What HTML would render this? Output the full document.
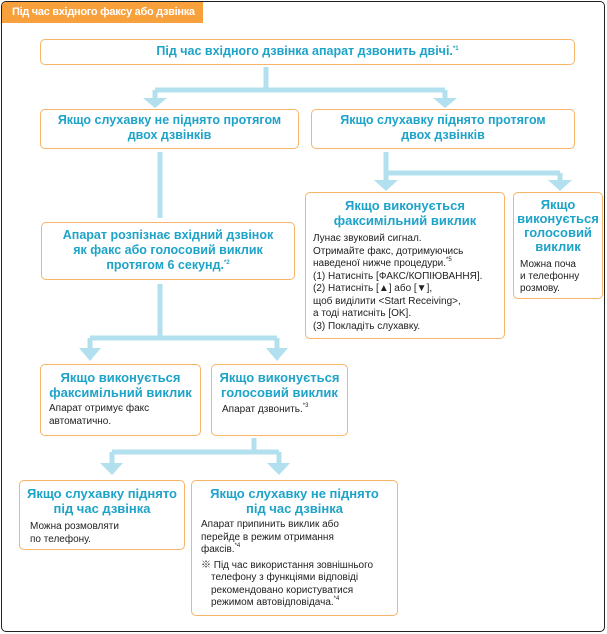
<!DOCTYPE html>
<html><head><meta charset="utf-8"><style>
body{margin:0;width:607px;height:634px;background:#fff;position:relative;overflow:hidden;font-family:"Liberation Sans","Noto Sans CJK SC",sans-serif}
.frame{position:absolute;left:1px;top:1px;width:602px;height:629px;border:1.5px solid #222;border-radius:5px}
.tab{position:absolute;left:2px;top:2px;width:201px;height:21px;background:#f7a03c;color:#fff;font-size:11px;font-weight:bold;line-height:21px;padding-left:10px;box-sizing:border-box;border-top-left-radius:4px;white-space:nowrap;letter-spacing:-0.3px}
.b{position:absolute;border:1.5px solid #f8b468;border-radius:5px;box-sizing:border-box;background:#fff}
.t{color:#1ea3c9;font-weight:bold;text-align:center;font-size:12.5px;line-height:15px}
.p{color:#222;font-size:10px;line-height:12.5px}
sup{font-size:6px;line-height:0;vertical-align:0;position:relative;top:-5px}
svg{position:absolute;left:0;top:0}
</style></head><body>
<div class="frame"></div>
<div class="tab">Під час вхідного факсу або дзвінка</div>
<svg width="607" height="634">
<g fill="none" stroke="#b3e0ee" stroke-width="5">
<path d="M266 67V90M155 90H445M155 90V100M445 90V100"/>
<path d="M160 152V218M160 284V338M90 338H277M90 338V350M277 338V350"/>
<path d="M254 438V452M112 452H279M112 452V466M279 452V466"/>
<path d="M386 152V173M386 173H560M386 173V182M560 173V182"/>
</g>
<g fill="#b3e0ee">
<path d="M143 98H167L155 108Z M433 98H457L445 108Z"/>
<path d="M79 348H101L90 361Z M266 348H288L277 361Z"/>
<path d="M100 463H123L112 475Z M267 463H290L279 475Z"/>
<path d="M374 180H398L386 191Z M548 180H572L560 191Z"/>
</g>
</svg>
<div class="b" style="left:40px;top:39px;width:535px;height:26px"><div class="t" style="line-height:23px">Під час вхідного дзвінка апарат дзвонить двічі.<sup>*1</sup></div></div>
<div class="b" style="left:40px;top:109px;width:259px;height:40px"><div class="t" style="margin-top:3px">Якщо слухавку не піднято протягом<br>двох дзвінків</div></div>
<div class="b" style="left:311px;top:109px;width:264px;height:40px"><div class="t" style="margin-top:3px">Якщо слухавку піднято протягом<br>двох дзвінків</div></div>
<div class="b" style="left:41px;top:222px;width:254px;height:58px"><div class="t" style="margin-top:5px">Апарат розпізнає вхідний дзвінок<br>як факс або голосовий виклик<br>протягом 6 секунд.<sup>*2</sup></div></div>
<div class="b" style="left:305px;top:192px;width:200px;height:147px"><div class="t" style="font-size:13px;margin-top:5px">Якщо виконується<br>факсимільний виклик</div>
<div class="p" style="margin:5px 0 0 7px">Лунає звуковий сигнал.<br>Отримайте факс, дотримуючись<br>наведеної нижче процедури.<sup>*5</sup><br>(1) Натисніть [ФАКС/КОПІЮВАННЯ].<br>(2) Натисніть [▲] або [▼],<br>щоб виділити &lt;Start Receiving&gt;,<br>а тоді натисніть [OK].<br>(3) Покладіть слухавку.</div></div>
<div class="b" style="left:513px;top:192px;width:90px;height:107px"><div class="t" style="font-size:13px;line-height:14px;margin-top:5px">Якщо<br>виконується<br>голосовий<br>виклик</div>
<div class="p" style="margin:5px 0 0 6px;line-height:12px">Можна поча<br>и телефонну<br>розмову.</div></div>
<div class="b" style="left:40px;top:364px;width:161px;height:72px"><div class="t" style="font-size:13px;margin-top:5px">Якщо виконується<br>факсимільний виклик</div>
<div class="p" style="margin:3px 0 0 8px">Апарат отримує факс<br>автоматично.</div></div>
<div class="b" style="left:211px;top:364px;width:137px;height:72px"><div class="t" style="font-size:13px;margin-top:5px">Якщо виконується<br>голосовий виклик</div>
<div class="p" style="margin:4px 0 0 10px">Апарат дзвонить.<sup>*3</sup></div></div>
<div class="b" style="left:19px;top:480px;width:166px;height:70px"><div class="t" style="font-size:13px;margin-top:5px">Якщо слухавку піднято<br>під час дзвінка</div>
<div class="p" style="margin:5px 0 0 10px">Можна розмовляти<br>по телефону.</div></div>
<div class="b" style="left:191px;top:480px;width:207px;height:136px"><div class="t" style="font-size:13px;margin-top:5px">Якщо слухавку не піднято<br>під час дзвінка</div>
<div class="p" style="margin:3px 0 0 9px">Апарат припинить виклик або<br>перейде в режим отримання<br>факсів.<sup>*4</sup></div>
<div class="p" style="margin:3px 0 0 9px;padding-left:10px;text-indent:-10px">※ Під час використання зовнішнього<br>телефону з функціями відповіді<br>рекомендовано користуватися<br>режимом автовідповідача.<sup>*4</sup></div></div>
</body></html>
